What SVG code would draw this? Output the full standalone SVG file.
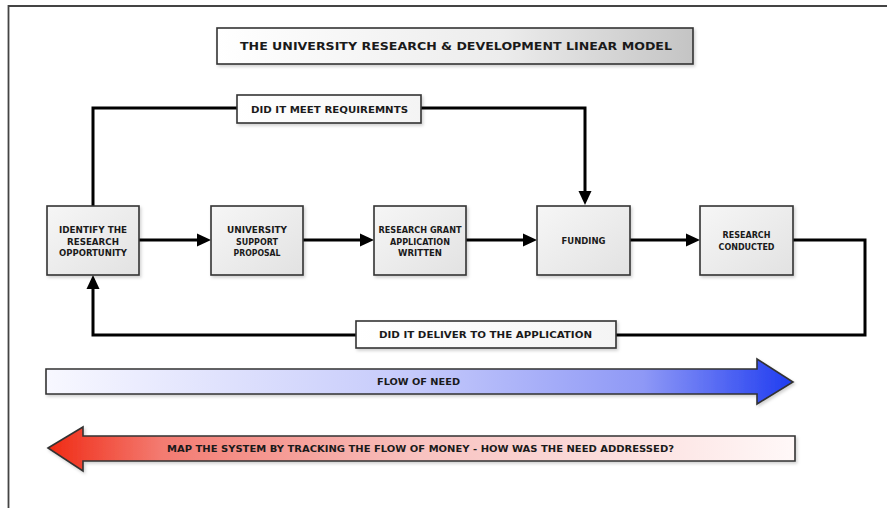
<svg xmlns="http://www.w3.org/2000/svg" width="887" height="508" viewBox="0 0 887 508">
<style>
  .box { stroke: #333; stroke-width: 1.6; }
  .node { fill: url(#nodeGrad); }
  .lbl { fill: url(#lblGrad); }
  .t { font-family: "DejaVu Sans", "Liberation Sans", sans-serif; font-weight: bold; fill: #1a1a1a; text-anchor: middle; dominant-baseline: central; }
  .n { font-size: 8px; }
  .conn { fill: none; stroke: #000; stroke-width: 3; }
  .frame { fill: none; stroke: #444; stroke-width: 1.8; }
</style>
<defs>
  <linearGradient id="nodeGrad" x1="0" y1="0" x2="1" y2="1">
    <stop offset="0" stop-color="#f6f6f6"/>
    <stop offset="1" stop-color="#e2e2e2"/>
  </linearGradient>
  <linearGradient id="titleGrad" x1="0" y1="0" x2="1" y2="0">
    <stop offset="0" stop-color="#ffffff"/>
    <stop offset="0.6" stop-color="#ececec"/>
    <stop offset="1" stop-color="#c4c4c4"/>
  </linearGradient>
  <linearGradient id="lblGrad" x1="0" y1="0" x2="1" y2="0">
    <stop offset="0" stop-color="#ffffff"/>
    <stop offset="1" stop-color="#f4f4f4"/>
  </linearGradient>
  <linearGradient id="needGrad" x1="46" y1="0" x2="793" y2="0" gradientUnits="userSpaceOnUse">
    <stop offset="0" stop-color="#f8f8ff"/>
    <stop offset="0.5" stop-color="#c4c9fb"/>
    <stop offset="0.8" stop-color="#8e98f6"/>
    <stop offset="1" stop-color="#1f3cf0"/>
  </linearGradient>
  <linearGradient id="moneyGrad" x1="48" y1="0" x2="795" y2="0" gradientUnits="userSpaceOnUse">
    <stop offset="0" stop-color="#f02a14"/>
    <stop offset="0.15" stop-color="#f37a70"/>
    <stop offset="0.5" stop-color="#f8c2c0"/>
    <stop offset="1" stop-color="#fff8f8"/>
  </linearGradient>
  <filter id="sh" x="-10%" y="-10%" width="130%" height="140%">
    <feDropShadow dx="1.5" dy="2" stdDeviation="1.5" flood-color="#000" flood-opacity="0.18"/>
  </filter>
  <marker id="ah" markerUnits="userSpaceOnUse" markerWidth="16" markerHeight="14" viewBox="0 0 16 14" refX="4" refY="7" orient="auto">
    <path d="M0,0.5 L14,7 L0,13.5 z" fill="#000"/>
  </marker>
</defs>

<path class="frame" d="M8.5,508 V6 H887"/>

<g id="title">
  <rect class="box" x="217" y="28" width="476" height="36" fill="url(#titleGrad)" filter="url(#sh)"/>
  <text class="t" x="456" y="46.5" font-size="11" textLength="432" lengthAdjust="spacingAndGlyphs">THE UNIVERSITY RESEARCH &amp; DEVELOPMENT LINEAR MODEL</text>
</g>

<g id="connectors">
  <path class="conn" d="M93,206 V108 H585 V195" marker-end="url(#ah)"/>
  <path class="conn" d="M139,240 H201" marker-end="url(#ah)"/>
  <path class="conn" d="M303,240 H364" marker-end="url(#ah)"/>
  <path class="conn" d="M466,240 H527" marker-end="url(#ah)"/>
  <path class="conn" d="M630,240 H690" marker-end="url(#ah)"/>
  <path class="conn" d="M793,240 H865 V335 H93 V285" marker-end="url(#ah)"/>
</g>

<g id="label-meet">
  <rect class="box lbl" x="237" y="95" width="184" height="28" filter="url(#sh)"/>
  <text class="t" x="329.5" y="109.5" font-size="8.5" textLength="157" lengthAdjust="spacingAndGlyphs">DID IT MEET REQUIREMNTS</text>
</g>

<g id="label-deliver">
  <rect class="box lbl" x="356" y="321" width="260" height="27" filter="url(#sh)"/>
  <text class="t" x="485.5" y="335" font-size="8.5" textLength="213" lengthAdjust="spacingAndGlyphs">DID IT DELIVER TO THE APPLICATION</text>
</g>

<g id="node-identify">
  <rect class="box node" x="47" y="206" width="92" height="69" filter="url(#sh)"/>
  <text class="t n" x="93" y="230" textLength="68" lengthAdjust="spacingAndGlyphs">IDENTIFY THE</text>
  <text class="t n" x="93" y="242" textLength="52" lengthAdjust="spacingAndGlyphs">RESEARCH</text>
  <text class="t n" x="93" y="253.5" textLength="68" lengthAdjust="spacingAndGlyphs">OPPORTUNITY</text>
</g>

<g id="node-support">
  <rect class="box node" x="211" y="206" width="92" height="69" filter="url(#sh)"/>
  <text class="t n" x="257" y="230" textLength="60" lengthAdjust="spacingAndGlyphs">UNIVERSITY</text>
  <text class="t n" x="257" y="242" textLength="42" lengthAdjust="spacingAndGlyphs">SUPPORT</text>
  <text class="t n" x="257" y="253.5" textLength="47" lengthAdjust="spacingAndGlyphs">PROPOSAL</text>
</g>

<g id="node-grant">
  <rect class="box node" x="374" y="206" width="92" height="69" filter="url(#sh)"/>
  <text class="t n" x="420" y="230" textLength="83" lengthAdjust="spacingAndGlyphs">RESEARCH GRANT</text>
  <text class="t n" x="420" y="242" textLength="60" lengthAdjust="spacingAndGlyphs">APPLICATION</text>
  <text class="t n" x="420" y="253.5" textLength="44" lengthAdjust="spacingAndGlyphs">WRITTEN</text>
</g>

<g id="node-funding">
  <rect class="box node" x="537" y="206" width="93" height="69" filter="url(#sh)"/>
  <text class="t n" x="583.5" y="241.5" textLength="44" lengthAdjust="spacingAndGlyphs">FUNDING</text>
</g>

<g id="node-conducted">
  <rect class="box node" x="700" y="206" width="93" height="69" filter="url(#sh)"/>
  <text class="t n" x="746.5" y="235" textLength="48" lengthAdjust="spacingAndGlyphs">RESEARCH</text>
  <text class="t n" x="746.5" y="247" textLength="56" lengthAdjust="spacingAndGlyphs">CONDUCTED</text>
</g>

<g id="flow-of-need">
  <polygon class="box" points="46,369 757,369 757,359 793,382 757,404 757,394 46,394" fill="url(#needGrad)" filter="url(#sh)"/>
  <text class="t" x="418.5" y="382" font-size="8.5" textLength="83" lengthAdjust="spacingAndGlyphs">FLOW OF NEED</text>
</g>

<g id="flow-of-money">
  <polygon class="box" points="48,448 83,427 83,436 795,436 795,461 83,461 83,471" fill="url(#moneyGrad)" filter="url(#sh)"/>
  <text class="t" x="420.5" y="449" font-size="8.5" textLength="507" lengthAdjust="spacingAndGlyphs">MAP THE SYSTEM BY TRACKING THE FLOW OF MONEY - HOW WAS THE NEED ADDRESSED?</text>
</g>
</svg>
